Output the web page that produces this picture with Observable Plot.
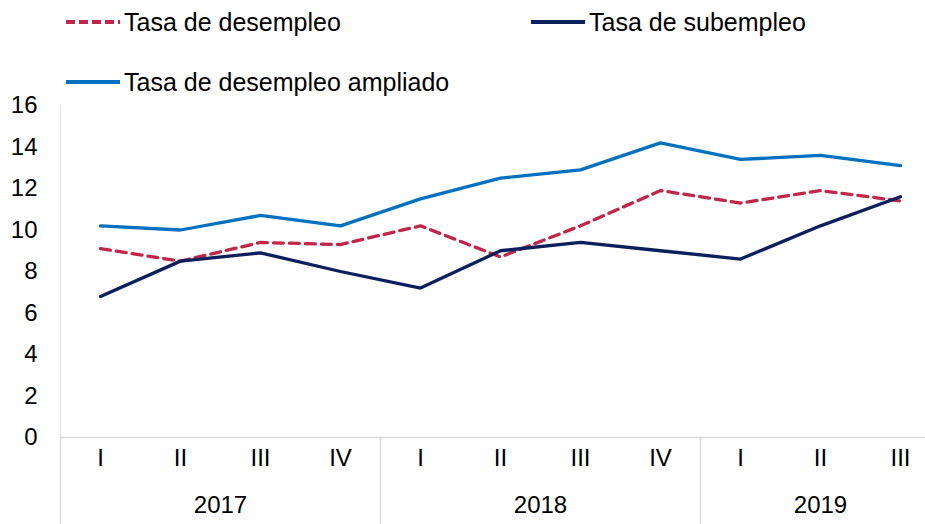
<!DOCTYPE html>
<html>
<head>
<meta charset="utf-8">
<script src="https://cdn.jsdelivr.net/npm/d3@7"></script>
<script src="https://cdn.jsdelivr.net/npm/@observablehq/plot@0.6"></script>
<style>
  body { margin: 0; background: #fff; }
  #wrap { position: relative; width: 925px; height: 524px; overflow: hidden; font-family: "Liberation Sans", Arial, sans-serif; }
  #chart { position: absolute; left: 0; top: 0; }
  .leg { position: absolute; display: flex; align-items: center; font-size: 25px; color: #000; white-space: nowrap; }
  .leg svg { margin-right: 3px; }
</style>
</head>
<body>
<div id="wrap">
  <div id="chart"></div>
  <div id="legend"></div>
</div>
<script>
// ---- data ----
const quarters = ["I", "II", "III", "IV", "I", "II", "III", "IV", "I", "II", "III"];
const years = ["2017", "2017", "2017", "2017", "2018", "2018", "2018", "2018", "2019", "2019", "2019"];
const desempleo = [9.1, 8.5, 9.4, 9.3, 10.2, 8.7, 10.2, 11.9, 11.3, 11.9, 11.4];
const subempleo = [6.8, 8.5, 8.9, 8.0, 7.2, 9.0, 9.4, 9.0, 8.6, 10.2, 11.6];
const ampliado = [10.2, 10.0, 10.7, 10.2, 11.5, 12.5, 12.9, 14.2, 13.4, 13.6, 13.1];
const yTicks = [0, 2, 4, 6, 8, 10, 12, 14, 16];
const seriesNames = ["Tasa de desempleo", "Tasa de subempleo", "Tasa de desempleo ampliado"];
const seriesColors = ["#C0264A", "#0B1F5C", "#0070C0"];

// ---- layout ----
const W = 925, H = 524, mTop = 105, mBottom = 87, mLeft = 60;
const frameH = H - mTop - mBottom;

const idx = quarters.map((_, i) => i);
const yearGroups = d3.groups(idx, i => years[i]).map(([y, is]) => ({year: y, start: d3.min(is), mid: d3.mean(is)}));

const lineOpts = {x: (d, i) => i, y: d => d, strokeWidth: 3.3, strokeLinejoin: "round"};

const plot = Plot.plot({
  width: W, height: H,
  marginTop: mTop, marginBottom: mBottom, marginLeft: mLeft, marginRight: 0,
  style: {fontFamily: "'Liberation Sans', Arial, sans-serif", fontSize: "24px", color: "#000", background: "transparent"},
  x: {domain: [-0.5, quarters.length - 0.5], range: [mLeft, mLeft + quarters.length * 80], axis: null},
  y: {domain: [0, 16], axis: null},
  marks: [
    Plot.ruleX([-0.5], {stroke: "#ebe7df", strokeWidth: 1.5}),
    Plot.ruleX(yearGroups, {x: d => d.start - 0.5, insetTop: frameH, insetBottom: -mBottom, stroke: "#d9d9d9", strokeWidth: 1.5}),
    Plot.ruleY([0], {stroke: "#d9d9d9", strokeWidth: 1.5}),
    Plot.axisY({ticks: yTicks, tickSize: 0, tickPadding: 23, label: null, fontSize: 24}),
    Plot.text(idx, {x: i => i, text: i => quarters[i], frameAnchor: "bottom", dy: 28, fontSize: 24}),
    Plot.text(yearGroups, {x: d => d.mid, text: d => d.year, frameAnchor: "bottom", dy: 75, fontSize: 24}),
    Plot.lineY(ampliado, {...lineOpts, stroke: seriesColors[2]}),
    Plot.lineY(desempleo, {...lineOpts, stroke: seriesColors[0], strokeDasharray: "10,6"}),
    Plot.lineY(subempleo, {...lineOpts, stroke: seriesColors[1]})
  ]
});
document.getElementById("chart").appendChild(plot);

// ---- legend ----
const legendPos = [{left: 65, top: 22}, {left: 530, top: 22}, {left: 65, top: 82}];
const dashes = ["9,4", null, null];
const legend = document.getElementById("legend");
seriesNames.forEach((name, k) => {
  const div = document.createElement("div");
  div.className = "leg";
  div.style.left = legendPos[k].left + "px";
  div.style.top = (legendPos[k].top - 15) + "px";
  div.style.height = "30px";
  const dash = dashes[k] ? ` stroke-dasharray="${dashes[k]}"` : "";
  div.innerHTML = `<svg width="56" height="10"><line x1="1" y1="5" x2="55" y2="5" stroke="${seriesColors[k]}" stroke-width="4"${dash}/></svg><span>${name}</span>`;
  legend.appendChild(div);
});
</script>
</body>
</html>
